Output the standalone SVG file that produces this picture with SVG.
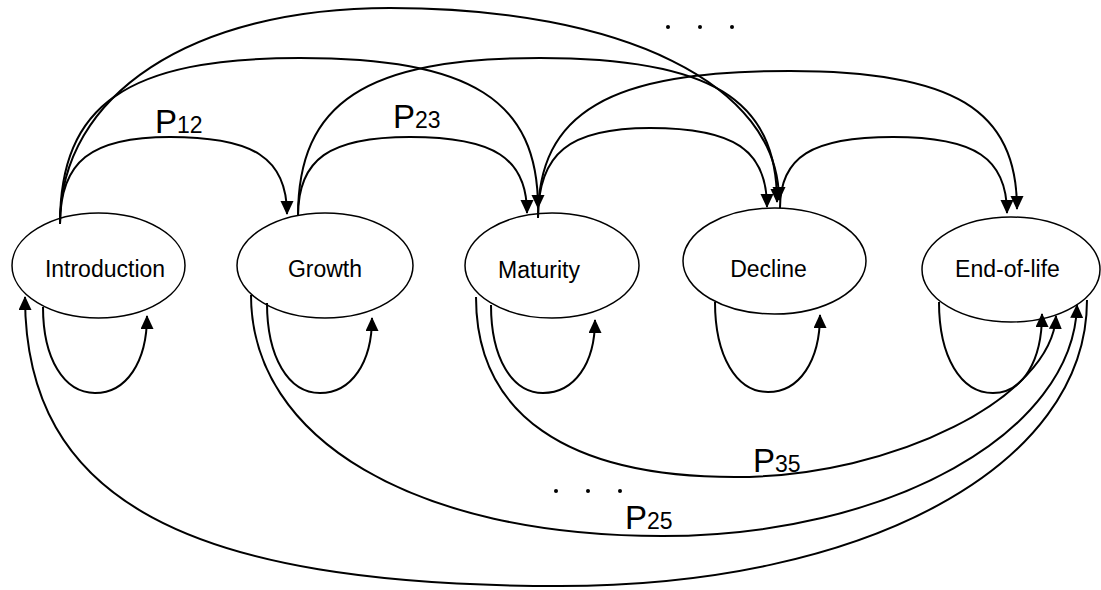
<svg xmlns="http://www.w3.org/2000/svg" width="1101" height="590" viewBox="0 0 1101 590">
<style>
.node{fill:#fff;stroke:#000;stroke-width:1.5}
.lbl{font-family:"Liberation Sans",Arial,sans-serif;font-size:23px;fill:#000;text-anchor:middle}
.edge{fill:none;stroke:#000;stroke-width:2;marker-end:url(#arrow)}
.p{font-family:"Liberation Sans",Arial,sans-serif;font-size:33px;fill:#000}
.sub{font-size:23px}
.dot{fill:#000}
</style>
<defs>
<marker id="arrow" markerUnits="userSpaceOnUse" markerWidth="14" markerHeight="14" viewBox="0 0 14 14" refX="13" refY="6.5" orient="auto">
<path d="M0,0 L14,6.5 L0,13 z" fill="#000"/>
</marker>
</defs>
<rect width="1101" height="590" fill="#fff"/>
<g id="nodes">
<g id="node-introduction"><ellipse class="node" cx="98.5" cy="265.5" rx="86.5" ry="52.5"/><text class="lbl" x="105" y="277">Introduction</text></g>
<g id="node-growth"><ellipse class="node" cx="325" cy="265.5" rx="88" ry="52.5"/><text class="lbl" x="325" y="277">Growth</text></g>
<g id="node-maturity"><ellipse class="node" cx="552" cy="265.5" rx="87" ry="52.5"/><text class="lbl" x="539" y="278">Maturity</text></g>
<g id="node-decline"><ellipse class="node" cx="774.5" cy="261" rx="91.5" ry="53"/><text class="lbl" x="768.5" y="277">Decline</text></g>
<g id="node-endoflife"><ellipse class="node" cx="1011" cy="269.5" rx="89" ry="52.5"/><text class="lbl" x="1007.5" y="277">End-of-life</text></g>
</g>
<g id="connectors">
<path class="edge" d="M60,224 C60,161.4 90.8,137 170,137 C254.2,137 287,158.6 287,214"/>
<path class="edge" d="M60,224 C60,104.5 127.2,58 300,58 C471.4,58 538,100 538,208"/>
<path class="edge" d="M60,224 C60,94.4 192,8 390,8 C623.4,8 779,84.8 779,200"/>
<path class="edge" d="M298,216 C298,159.1 329.4,137 410,137 C494.2,137 527,158.3 527,213"/>
<path class="edge" d="M298,216 C298,102.2 365.8,58 540,58 C710.6,58 777,99 777,202"/>
<path class="edge" d="M538,218 C538,153.2 569.4,128 650,128 C734.2,128 767,150.1 767,207"/>
<path class="edge" d="M538,218 C538,112.2 608.6,71 790,71 C953.4,71 1017,109.6 1017,209"/>
<path class="edge" d="M780,208 C780,156.9 811.6,137 893,137 C975.1,137 1007,158.3 1007,213"/>
<path class="edge" d="M43,307 C43,358.6 63.8,393 95,393 C126.2,393 147,362.2 147,316"/>
<path class="edge" d="M267,303 C267,357 288.2,393 320,393 C351.2,393 372,363 372,318"/>
<path class="edge" d="M491,305 C491,357.8 511.8,393 543,393 C574.2,393 595,363.8 595,320"/>
<path class="edge" d="M715,302 C715,356 736.2,392 768,392 C799.2,392 820,361.2 820,315"/>
<path class="edge" d="M939,302 C939,356.6 960.6,393 993,393 C1022.4,393 1042,361.4 1042,314"/>
<path class="edge" d="M476,297 C476,414 566.7,477 735,477 C895.5,477 1052,396.5 1056,316"/>
<path class="edge" d="M251,295 C251,439.6 415.4,536 662,536 C890.3,536 1074,432 1077,305"/>
<path class="edge" d="M1087,300 C1087,465.9 865.7,586 560,586 C185.5,586 25,499.3 25,297"/>
</g>
<g id="labels">
<text class="p" x="155" y="133">P<tspan class="sub">12</tspan></text>
<text class="p" x="393" y="128">P<tspan class="sub">23</tspan></text>
<text class="p" x="753" y="472">P<tspan class="sub">35</tspan></text>
<text class="p" x="625" y="529">P<tspan class="sub">25</tspan></text>
</g>
<g id="ellipsis-dots">
<circle class="dot" cx="668" cy="27" r="2"/>
<circle class="dot" cx="700" cy="27" r="2"/>
<circle class="dot" cx="732" cy="27" r="2"/>
<circle class="dot" cx="556" cy="491" r="2"/>
<circle class="dot" cx="588" cy="491" r="2"/>
<circle class="dot" cx="620" cy="491" r="2"/>
</g>
</svg>
